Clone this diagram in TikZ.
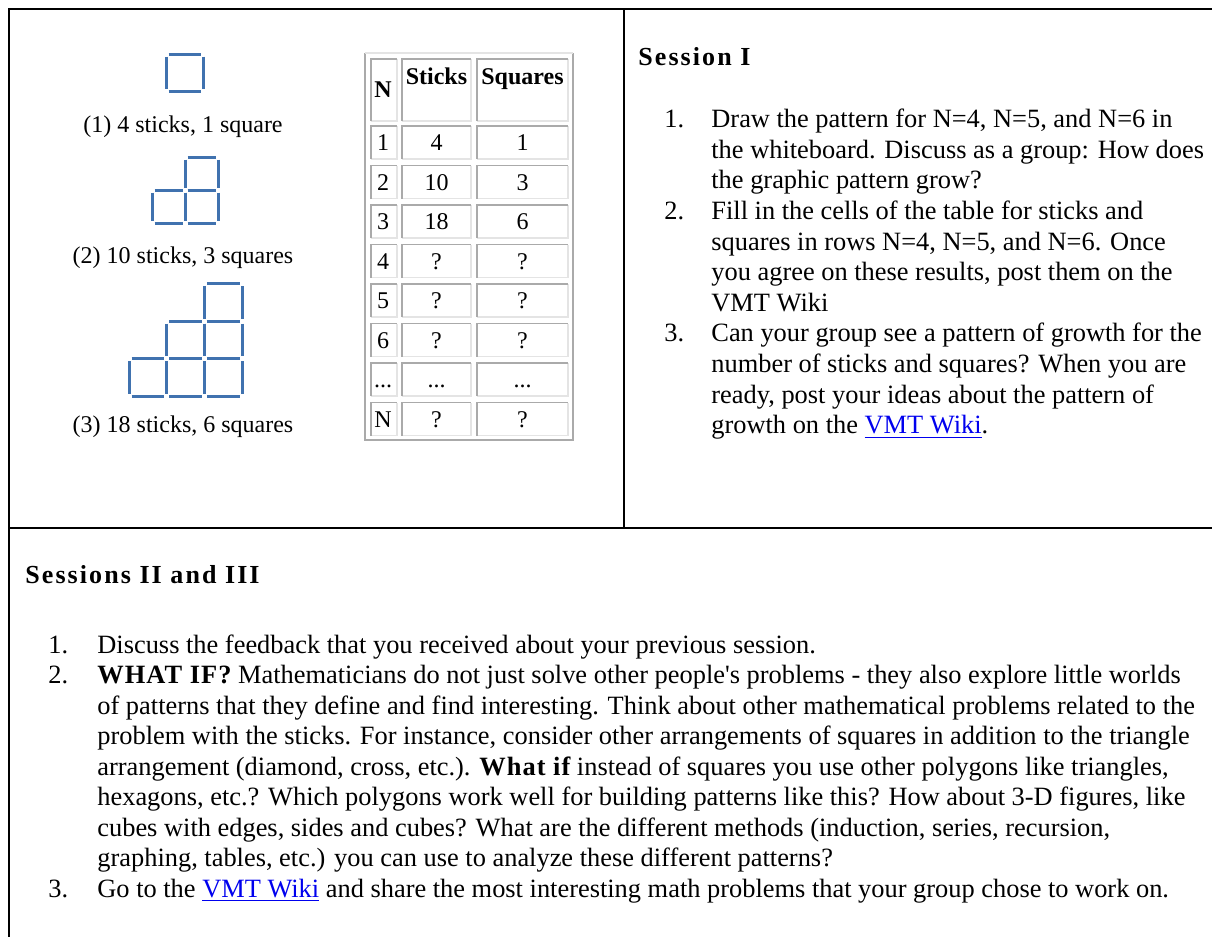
\documentclass[tikz,border=0pt]{standalone}
\usepackage{fontspec}
\setmainfont{Liberation Serif}
\newfontfamily\headfont[LetterSpace=8]{Liberation Serif}
\newfontfamily\spacedfont[LetterSpace=4]{Liberation Serif}
\definecolor{stickblue}{RGB}{64,114,175}
\definecolor{linkblue}{RGB}{0,0,238}
\definecolor{cellgray}{RGB}{170,170,170}
\definecolor{celllight}{RGB}{228,228,228}

% one square made of four separate sticks: x, y (top left), side
\newcommand{\sqsticks}[3]{%
  \draw[stick] ({#1+2.5},{#2}) -- ({#1+#3-2.5},{#2})
               ({#1+2.5},{#2+#3}) -- ({#1+#3-2.5},{#2+#3})
               ({#1},{#2+2.5}) -- ({#1},{#2+#3-2.5})
               ({#1+#3},{#2+2.5}) -- ({#1+#3},{#2+#3-2.5});}
% table cell: x1, y1, x2, y2
\newcommand{\tcell}[4]{%
  \draw[celllight, line width=0.9pt] ({#3},{#2}) -- ({#3},{#4}) -- ({#1},{#4});
  \draw[cellgray, line width=0.9pt] ({#1},{#4}) -- ({#1},{#2}) -- ({#3},{#2});}
\newcommand{\vmtlink}{\textcolor{linkblue}{\underline{VMT Wiki}}}
\newcommand{\rowdots}{...}

\begin{document}
\begin{tikzpicture}[x=0.5pt, y=-0.5pt,
  frame/.style={line width=1.1pt, black},
  stick/.style={line width=1.5pt, stickblue},
  body/.style={inner sep=0pt, align=left, font=\fontsize{13.2}{15.3}\selectfont},
  lower/.style={inner sep=0pt, align=left, font=\fontsize{13.2}{15.25}\selectfont},
  caption/.style={inner sep=0pt, font=\fontsize{12}{14}\selectfont},
  celltext/.style={inner sep=0pt, font=\fontsize{12}{14}\selectfont},
  cellhead/.style={inner sep=0pt, font=\fontsize{12}{14}\selectfont\bfseries},
  heading/.style={inner sep=0pt, font=\fontsize{13}{15}\selectfont\headfont\bfseries}]
\useasboundingbox (0,0) rectangle (1212,937);

% frame
\draw[frame] (1212,9) -- (9,9) -- (9,937);
\draw[frame] (624,9) -- (624,528);
\draw[frame] (9,528) -- (1212,528);

% stick patterns
\sqsticks{166}{54}{37}
\foreach \cx/\cy in {152/190, 185/190, 185/157} {
	\sqsticks{\cx}{\cy}{33}
	};
\foreach \cx/\cy in {0/2, 1/2, 2/2, 1/1, 2/1, 2/0} {
	\sqsticks{129+37.7*\cx}{283.5+37.7*\cy}{37.7}
	};
\node[caption, anchor=base] (cap1) at (183,132.7) {(1) 4 sticks, 1 square};
\node[caption, anchor=base] (cap2) at (183,263.3) {(2) 10 sticks, 3 squares};
\node[caption, anchor=base] (cap3) at (183,432.7) {(3) 18 sticks, 6 squares};

% table
\draw[cellgray, line width=0.9pt] (365,53) -- (365,440) -- (573,440) -- (573,53);
\draw[celllight, line width=0.9pt] (365,53) -- (573,53);
\tcell{371}{59}{397}{121}
\tcell{402}{59}{471}{121}
\tcell{477}{59}{568}{121}
\node[cellhead, anchor=base] (hN) at (383,97.3) {N};
\node[cellhead, anchor=base] (hSticks) at (436.5,84) {Sticks};
\node[cellhead, anchor=base] (hSquares) at (522.5,84) {Squares};
\foreach \n/\st/\sq [count=\r from 0] in {1/4/1, 2/10/3, 3/18/6, 4/?/?, 5/?/?, 6/?/?, \rowdots/\rowdots/\rowdots, N/?/?} {
	\pgfmathsetmacro{\rowtop}{126+39.5*\r}
	\tcell{371}{\rowtop}{397}{\rowtop+33}
	\tcell{402}{\rowtop}{471}{\rowtop+33}
	\tcell{477}{\rowtop}{568}{\rowtop+33}
	\node[celltext, anchor=base] (n\r) at (383,\rowtop+24.5) {\n};
	\node[celltext, anchor=base] (st\r) at (436.5,\rowtop+24.5) {\st};
	\node[celltext, anchor=base] (sq\r) at (522.5,\rowtop+24.5) {\sq};
	};

% session I (multi-line nodes sit on their last line)
\node[heading, anchor=base west] (sess1) at (638,65) {Session I};
\node[body, anchor=base west] (num1) at (664,127.7) {1.};
\node[body, anchor=base west] (item1) at (711,188.9) {Draw the pattern for N=4, N=5, and N=6 in\\the whiteboard. Discuss as a group: How does\\the graphic pattern grow?};
\node[body, anchor=base west] (num2) at (664,219.5) {2.};
\node[body, anchor=base west] (item2) at (711,311.3) {Fill in the cells of the table for sticks and\\squares in rows N=4, N=5, and N=6. Once\\you agree on these results, post them on the\\VMT Wiki};
\node[body, anchor=base west] (num3) at (664,341.9) {3.};
\node[body, anchor=base west] (item3) at (711,433.7) {Can your group see a pattern of growth for the\\number of sticks and squares? When you are\\ready, post your ideas about the pattern of\\growth on the \vmtlink.};

% sessions II and III
\node[heading, anchor=base west] (sess23) at (25,583) {Sessions II and III};
\node[lower, anchor=base west] (numA) at (48,653) {1.};
\node[lower, anchor=base west] (itemA) at (97,653) {Discuss the feedback that you received about your previous session.};
\node[lower, anchor=base west] (numB) at (48,683.5) {2.};
\node[lower, anchor=base west] (itemB) at (97,866.5) {{\spacedfont\bfseries WHAT IF?} Mathematicians do not just solve other people\textquotesingle s problems - they also explore little worlds\\of patterns that they define and find interesting. Think about other mathematical problems related to the\\problem with the sticks. For instance, consider other arrangements of squares in addition to the triangle\\arrangement (diamond, cross, etc.). {\spacedfont\bfseries What if} instead of squares you use other polygons like triangles,\\hexagons, etc.? Which polygons work well for building patterns like this? How about 3-D figures, like\\cubes with edges, sides and cubes? What are the different methods (induction, series, recursion,\\graphing, tables, etc.) you can use to analyze these different patterns?};
\node[lower, anchor=base west] (numC) at (48,897) {3.};
\node[lower, anchor=base west] (itemC) at (97,897) {Go to the \vmtlink{} and share the most interesting math problems that your group chose to work on.};
\end{tikzpicture}
\end{document}
